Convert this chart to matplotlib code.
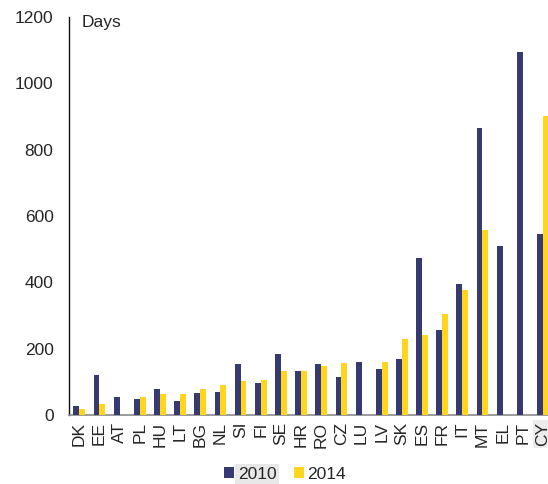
import matplotlib.pyplot as plt
import numpy as np

plt.rcParams["font.family"] = ["Liberation Sans", "DejaVu Sans"]

countries = ["DK", "EE", "AT", "PL", "HU", "LT", "BG", "NL", "SI", "FI", "SE", "HR",
             "RO", "CZ", "LU", "LV", "SK", "ES", "FR", "IT", "MT", "EL", "PT", "CY"]
days_2010 = [26, 120, 54, 49, 78, 43, 66, 68, 153, 97, 184, 134,
             155, 115, 159, 138, 170, 472, 255, 394, 865, 508, 1095, 545]
days_2014 = [19, 32, 0, 54, 62, 64, 78, 90, 102, 104, 133, 134,
             148, 157, 0, 159, 230, 241, 304, 376, 558, 0, 0, 902]

NAVY = "#353b72"
YELLOW = "#ffd520"
INK = "#262626"
FS = 12.5

fig = plt.figure(figsize=(5.48, 4.84), dpi=100)
ax = fig.add_axes([0.1268, 0.1426, 0.8732, 0.8223])

x = np.arange(len(countries))
w = 0.29
ax.bar(x - w / 2, days_2010, w, color=NAVY, label="2010", zorder=3)
ax.bar(x + w / 2, days_2014, w, color=YELLOW, label="2014", zorder=3)

ax.set_xlim(-0.486, 23.25)
ax.set_ylim(0, 1200)
ax.set_yticks(range(0, 1201, 200))
ax.tick_params(axis="y", length=0, pad=11.5, labelsize=FS, colors=INK)
ax.tick_params(axis="x", length=0, pad=5, labelsize=FS, colors=INK)
ax.set_xticks(x)
ax.set_xticklabels(countries, rotation=90)
ax.get_xticklabels()[-1].set_bbox(dict(facecolor="#ececec", edgecolor="none", pad=1.5))

for side in ("top", "right"):
    ax.spines[side].set_visible(False)
ax.spines["left"].set_color("#111111")
ax.spines["left"].set_linewidth(1.0)
ax.spines["bottom"].set_color("#8a8a8a")
ax.spines["bottom"].set_linewidth(1.2)

ax.text(0.026, 1.005, "Days", transform=ax.transAxes, ha="left", va="top",
        fontsize=FS, color=INK)

leg = fig.legend(loc="lower center", bbox_to_anchor=(0.52, -0.028), ncol=2, frameon=False,
                 fontsize=FS, handlelength=0.6, handleheight=0.6, handletextpad=0.2,
                 columnspacing=1.0)
for t in leg.get_texts():
    t.set_color(INK)
leg.get_texts()[0].set_bbox(dict(facecolor="#e8e8e8", edgecolor="none", pad=2))

fig.savefig("out.png", dpi=100)
